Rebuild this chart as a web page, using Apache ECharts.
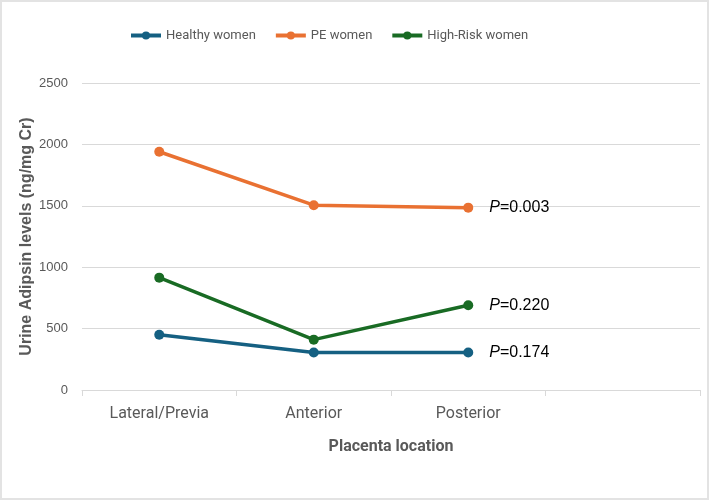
<!DOCTYPE html>
<html>
<head>
<meta charset="utf-8">
<script src="https://cdn.jsdelivr.net/npm/echarts@6/dist/echarts.min.js"></script>
<style>
  html, body { margin: 0; padding: 0; background: #fff; }
  #chart { width: 705px; height: 496px; border: 2px solid #e3e3e3; }
</style>
</head>
<body>
<div id="chart"></div>
<script>
// categories (last slot is empty, like the original axis)
var categories = ['Lateral/Previa', 'Anterior', 'Posterior', ''];
var healthy = [450, 305, 305];
var pe = [1940, 1505, 1485];
var highRisk = [915, 410, 690];
var pValues = { 'Healthy women': '0.174', 'PE women': '0.003', 'High-Risk women': '0.220' };

var font = "'Roboto', sans-serif";
var gray = '#595959';

function makeSeries(name, data, color) {
    return {
        name: name,
        type: 'line',
        data: data,
        symbol: 'circle',
        symbolSize: 10,
        lineStyle: { width: 3.5, color: color },
        itemStyle: { color: color },
        label: {
            show: true,
            position: 'right',
            distance: 16,
            formatter: function (p) {
                return p.dataIndex === 2 ? '{i|P}{n|=' + pValues[name] + '}' : '';
            },
            rich: {
                i: { fontStyle: 'italic', fontSize: 16, color: '#000', fontFamily: 'Liberation Sans' },
                n: { fontSize: 16, color: '#000', fontFamily: 'Liberation Sans' }
            }
        }
    };
}

var myChart = echarts.init(document.getElementById('chart'));
myChart.setOption({
    animation: false,
    textStyle: { fontFamily: font },
    legend: {
        top: 22,
        left: 122,
        itemWidth: 30,
        itemHeight: 10,
        itemGap: 18,
        lineStyle: { width: 4 },
        textStyle: { color: gray, fontSize: 13, fontFamily: font },
        data: ['Healthy women', 'PE women', 'High-Risk women']
    },
    grid: { left: 80, right: 7, top: 81, bottom: 108 },
    xAxis: {
        type: 'category',
        data: categories,
        boundaryGap: true,
        name: 'Placenta location',
        nameLocation: 'middle',
        nameGap: 49,
        nameTextStyle: { color: gray, fontSize: 16, fontWeight: 'bold', fontFamily: font },
        axisLine: { lineStyle: { color: '#d9d9d9', width: 1 } },
        axisTick: { show: true, length: 6, lineStyle: { color: '#d9d9d9' } },
        axisLabel: { color: gray, fontSize: 16, margin: 16, fontFamily: font }
    },
    yAxis: {
        type: 'value',
        min: 0,
        max: 2500,
        interval: 500,
        name: 'Urine Adipsin levels (ng/mg Cr)',
        nameLocation: 'middle',
        nameGap: 47,
        nameMoveOverlap: false,
        nameTextStyle: { color: gray, fontSize: 16, fontWeight: 'bold', fontFamily: "'Liberation Sans', sans-serif" },
        axisLine: { show: false },
        axisTick: { show: false },
        axisLabel: {
            color: gray, fontSize: 13, margin: 14, fontFamily: "'Liberation Sans', sans-serif",
            formatter: function (v) { return String(v); }
        },
        splitLine: { lineStyle: { color: '#d9d9d9', width: 1 } }
    },
    series: [
        makeSeries('Healthy women', healthy, '#156082'),
        makeSeries('PE women', pe, '#E97132'),
        makeSeries('High-Risk women', highRisk, '#196B24')
    ]
});
</script>
</body>
</html>
